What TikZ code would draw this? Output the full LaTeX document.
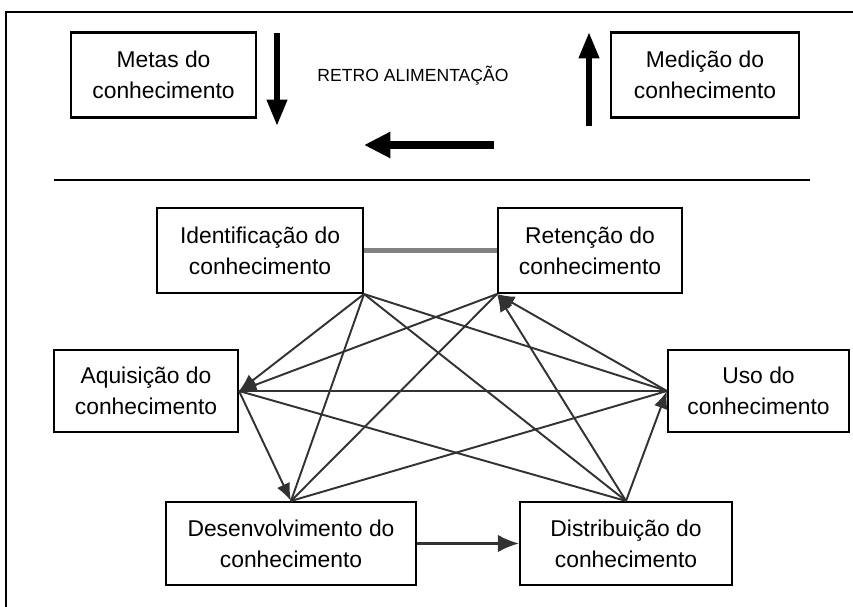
\documentclass[tikz,border=0pt]{standalone}
\usepackage{fontspec}
\setmainfont{Liberation Sans}
\usetikzlibrary{arrows.meta}
\definecolor{linkgray}{RGB}{50,50,50}
\definecolor{bargray}{RGB}{130,130,130}

\begin{document}
\begin{tikzpicture}[
  x=0.02cm, y=-0.02cm,
  >=Latex,
  box/.style={
    rectangle, draw, line width=1.2pt,
    minimum height=1.7cm,
    align=center, font=\fontsize{13}{17.5}\selectfont,
    inner sep=2pt,
  },
  link/.style={linkgray, line width=1.1pt},
  linkarrow/.style={link, -{Latex[length=10pt,width=8pt]}},
  feedarrow/.style={line width=3.4pt, -{Triangle[length=15pt,width=11pt]}},
]
\useasboundingbox (0,0) rectangle (853,607);

% ── Frame and rule
\draw[line width=1.5pt] (6,607) -- (6,12) -- (853,12);
\draw[line width=1.6pt] (54,180) -- (810,180);

% ── ROW 1: feedback loop
\node[box, minimum width=3.7cm] (metas) at (163.5,75)
  {Metas do\\conhecimento};
\node[box, minimum width=3.76cm] (medicao) at (705,75)
  {Medição do\\conhecimento};
\node[font=\fontsize{10}{12}\selectfont] (retro) at (413,76)
  {RETRO ALIMENTAÇÃO};

\coordinate (downTop) at (277,33);
\coordinate (downEnd) at (277,126);
\coordinate (upTop)   at (589,126);
\coordinate (upEnd)   at (589,32);
\coordinate (backTop) at (494,145);
\coordinate (backEnd) at (364,145);

\draw[feedarrow] (downTop) -- (downEnd);
\draw[feedarrow] (upTop) -- (upEnd);
\draw[line width=4.8pt, -{Triangle[length=15pt,width=14pt]}] (backTop) -- (backEnd);

% ── ROW 2: knowledge processes
\node[box, minimum width=4.12cm] (ident) at (260,250.5)
  {Identificação do\\conhecimento};
\node[box, minimum width=3.68cm] (reten) at (590,250.5)
  {Retenção do\\conhecimento};

\node[box, minimum width=3.68cm, minimum height=1.64cm] (aquis) at (146,391)
  {Aquisição do\\conhecimento};
\node[box, minimum width=3.62cm, minimum height=1.64cm] (uso) at (758.5,391)
  {Uso do\\conhecimento};

\node[box, minimum width=5.0cm, minimum height=1.66cm] (desenv) at (291,543.5)
  {Desenvolvimento do\\conhecimento};
\node[box, minimum width=4.24cm, minimum height=1.66cm] (distrib) at (626,543.5)
  {Distribuição do\\conhecimento};

% ── Links
\draw[bargray, line width=2.6pt] (ident.east) -- (reten.west);

\draw[linkarrow] (ident.south east) -- (aquis.east);
\draw[link] (ident.south east) -- (desenv.north);
\draw[link] (ident.south east) -- (uso.west);
\draw[link] (ident.south east) -- (distrib.north);

\draw[linkarrow] (reten.south west) -- (aquis.east);
\draw[link] (reten.south west) -- (desenv.north);
\draw[linkarrow] (uso.west) -- (reten.south west);
\draw[linkarrow] (distrib.north) -- (reten.south west);

\draw[link, line width=1.5pt] (aquis.east) -- (uso.west);
\draw[linkarrow] (aquis.east) -- (desenv.north);
\draw[link] (aquis.east) -- (distrib.north);

\draw[link] (desenv.north) -- (uso.west);
\draw[linkarrow] (distrib.north) -- (uso.west);

\draw[link, line width=1.5pt, -{Latex[length=12pt,width=10pt]}] (desenv.east) -- (distrib.west);

\end{tikzpicture}
\end{document}
